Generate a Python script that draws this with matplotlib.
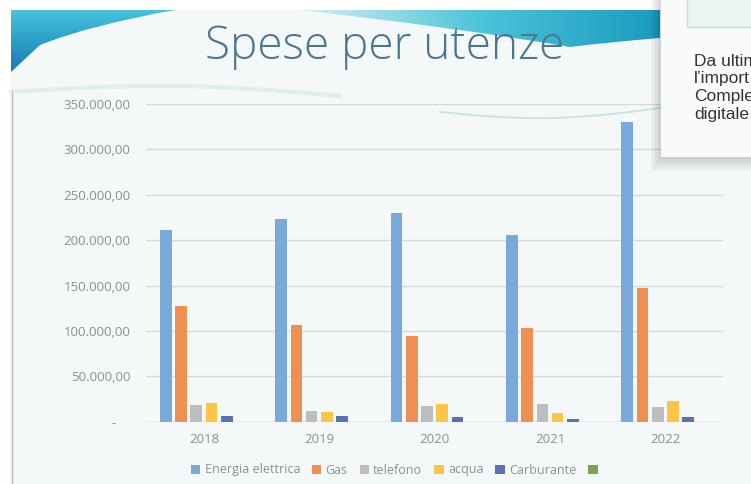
import matplotlib
matplotlib.use("Agg")
import matplotlib.pyplot as plt
import numpy as np
from matplotlib.path import Path
from matplotlib.patches import PathPatch, Rectangle

# dati
anni = ["2018", "2019", "2020", "2021", "2022"]
energia = [211300, 223400, 230400, 205500, 330500]
gas = [127700, 107000, 94300, 103000, 147800]
telefono = [18700, 11700, 17600, 19800, 16500]
acqua = [20100, 10300, 19800, 9900, 22800]
carburante = [6600, 6600, 4700, 3000, 4700]
vuota = [np.nan] * 5

serie = ["Energia elettrica", "Gas", "telefono", "acqua", "Carburante", " "]
valori = [energia, gas, telefono, acqua, carburante, vuota]
colori = ["#79a8da", "#f08f53", "#bdbdbd", "#fdc545", "#5b71b7", "#7aa354"]
yticks = [0, 50000, 100000, 150000, 200000, 250000, 300000, 350000]

W, H = 751, 484
fig = plt.figure(figsize=(W / 100, H / 100), dpi=100)
fig.patch.set_facecolor("#f4f8f8")

# sfondo della slide (decorazioni)
bg = fig.add_axes([0, 0, 1, 1], zorder=0)
bg.set_xlim(0, W)
bg.set_ylim(H, 0)
bg.axis("off")
bg.add_patch(Rectangle((0, 0), W, 10, color="white", lw=0))
bg.add_patch(Rectangle((0, 0), 11, H, color="white", lw=0))
bg.plot([12, 12], [90, H], color="#b8b8b8", lw=1)

grad = np.linspace(0, 1, 256).reshape(-1, 1)
cm_l = matplotlib.colors.LinearSegmentedColormap.from_list("l", ["#49c3da", "#2b9fc9", "#1f78b0"])
p1 = Path([(11, 10), (175, 10), (90, 25), (40, 45), (11, 72), (11, 10)],
          [Path.MOVETO, Path.LINETO, Path.CURVE3, Path.CURVE3, Path.LINETO, Path.CLOSEPOLY])
pp1 = PathPatch(p1, fc="none", ec="none")
bg.add_patch(pp1)
im1 = bg.imshow(grad, extent=[11, 175, 72, 10], cmap=cm_l, aspect="auto")
im1.set_clip_path(pp1)

cm_r = matplotlib.colors.LinearSegmentedColormap.from_list("r", ["#d5f0f4", "#4cc4da", "#1a9bbf"])
p2 = Path([(300, 10), (660, 10), (660, 38), (610, 42), (570, 47), (460, 28), (300, 10)],
          [Path.MOVETO, Path.LINETO, Path.LINETO, Path.CURVE3, Path.CURVE3,
           Path.CURVE3, Path.CURVE3])
pp2 = PathPatch(p2, fc="none", ec="none")
bg.add_patch(pp2)
im2 = bg.imshow(np.linspace(0, 1, 256).reshape(1, -1), extent=[300, 660, 48, 10], cmap=cm_r, aspect="auto")
im2.set_clip_path(pp2)

xs = np.linspace(11, 340, 100)
bg.plot(xs, 92 - 8 * np.sin((xs - 11) / 329 * np.pi) + 4 * (xs - 11) / 329, color="#cfe9e8", lw=3, alpha=0.6)
xs2 = np.linspace(440, 660, 60)
bg.plot(xs2, 112 + 8 * np.sin((xs2 - 440) / 220 * np.pi) - 4 * (xs2 - 440) / 220, color="#9fd7d3", lw=1.5, alpha=0.5)

bg.text(385, 47, "Spese per utenze", ha="center", va="center", fontsize=33,
        family="Open Sans", fontweight="light", color="#4a7691")

# grafico
ax = fig.add_axes([146.3 / W, 1 - 421.7 / H, 576.7 / W, 317.7 / H], zorder=2)
ax.patch.set_alpha(0)
x = np.arange(len(anni))
passo = 0.1327
barre = []
for i, (nome, v, c) in enumerate(zip(serie, valori, colori)):
    b = ax.bar(x + (i - 2.5) * passo, v, width=0.101, color=c, label=nome, zorder=3)
    barre.append(b)

ax.set_xlim(-0.5, len(anni) - 0.5)
ax.set_ylim(0, 350000)
ax.set_yticks(yticks)
etichette = ["-    "] + [f"{t:,.2f}".replace(",", "X").replace(".", ",").replace("X", ".") for t in yticks[1:]]
ax.set_yticklabels(etichette)
ax.set_xticks(x)
ax.set_xticklabels(anni)
ax.tick_params(axis="both", length=0, labelsize=9.5, labelcolor="#8f8f8f")
ax.tick_params(axis="y", pad=11.5)
ax.tick_params(axis="x", pad=8)
for lab in ax.get_xticklabels() + ax.get_yticklabels():
    lab.set_family("Open Sans")
ax.grid(axis="y", color="#d9d9d9", lw=1, zorder=0)
for s in ax.spines.values():
    s.set_visible(False)
ax.axhline(0, color="#d0d0d0", lw=1, zorder=2)

leg = ax.legend(handles=barre, loc="center", bbox_to_anchor=(398 / W, 1 - 470 / H),
                bbox_transform=fig.transFigure, ncol=6, frameon=False,
                handlelength=0.75, handleheight=0.75, handletextpad=0.35,
                columnspacing=0.95, prop={"family": "Open Sans", "size": 9})
for t in leg.get_texts():
    t.set_color("#8f8f8f")

# riquadro a destra
fg = fig.add_axes([0, 0, 1, 1], zorder=5)
fg.set_xlim(0, W)
fg.set_ylim(H, 0)
fg.axis("off")
fg.patch.set_alpha(0)
for k in range(8):
    fg.add_patch(Rectangle((661 - k * 1.5, -5), 100, 162 + k * 2, color="#000000", alpha=0.025, lw=0))
fg.add_patch(Rectangle((661, -5), 100, 162, fc="#f9fbfb", ec="none"))
fg.add_patch(Rectangle((686.5, -5), 80, 31.5, fc="#e9f5ee", ec="#bfe0cc", lw=1))
righe = ["Da ultim", "l\u2019import", "Comple", "digitale"]
for j, r in enumerate(righe):
    fg.text(694, 61 + j * 17.7, r, ha="left", va="center", fontsize=12.5,
            family="Liberation Sans", color="#333333")

fig.savefig("out.png", dpi=100, facecolor=fig.get_facecolor())
